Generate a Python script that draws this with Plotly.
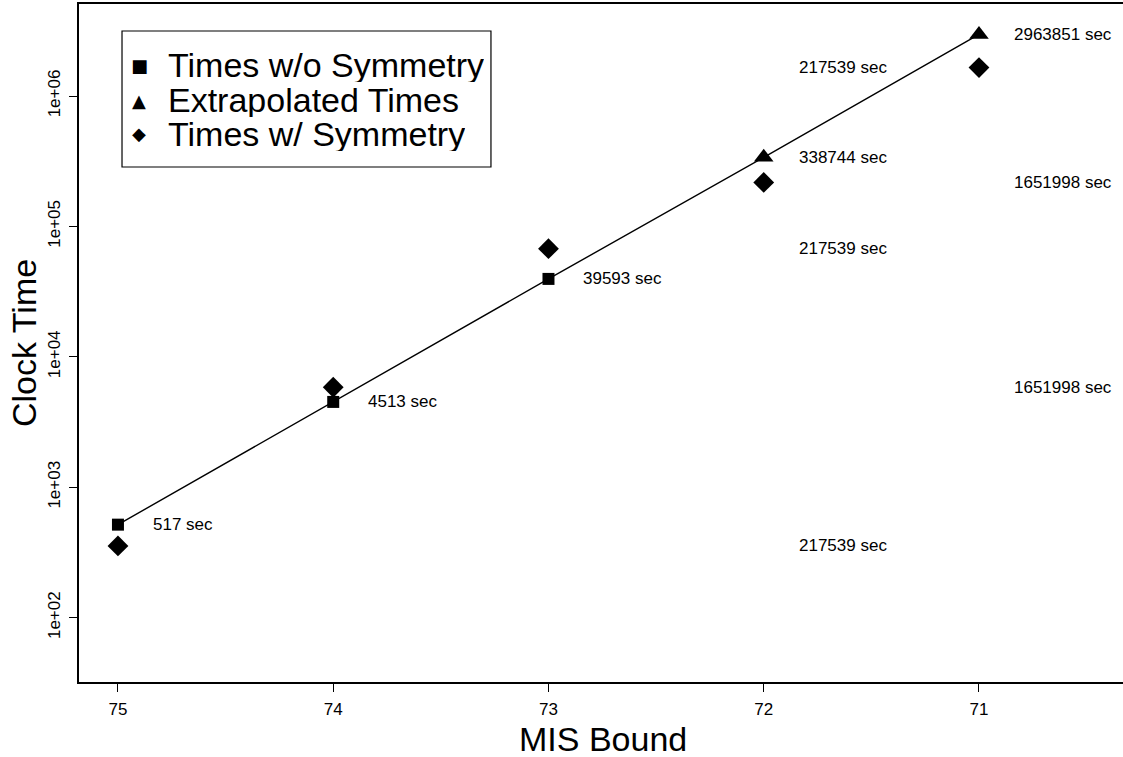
import math
import plotly.graph_objects as go

# ---- data ----
mis_bound = [75, 74, 73, 72, 71]
times_wo_sym_x = [75, 74, 73]
times_wo_sym = [517, 4513, 39593]
extrap_x = [72, 71]
extrap_times = [338744, 2963851]
times_sym = [355, 5850, 67500, 217539, 1651998]
wo_labels = ["517 sec", "4513 sec", "39593 sec", "338744 sec", "2963851 sec"]
sym_label_x = [72, 71]                       # recycled along the symmetry points
sym_label_text = ["217539 sec", "1651998 sec"]
y_tickvals = [1e2, 1e3, 1e4, 1e5, 1e6]
y_ticktext = ["1e+02", "1e+03", "1e+04", "1e+05", "1e+06"]
legend_names = ["Times w/o Symmetry", "Extrapolated Times", "Times w/ Symmetry"]
legend_symbols = ["\u25A0", "\u25B2", "\u25C6"]

FONT = "Liberation Sans, Arial, Helvetica, sans-serif"

fig = go.Figure()

fig.add_trace(go.Scatter(
    x=times_wo_sym_x + extrap_x, y=times_wo_sym + extrap_times,
    mode="lines", line=dict(color="black", width=1.4), showlegend=False))
fig.add_trace(go.Scatter(
    x=times_wo_sym_x, y=times_wo_sym, mode="markers", name=legend_names[0],
    marker=dict(symbol="square", size=12, color="black"), showlegend=False))
fig.add_trace(go.Scatter(
    x=extrap_x, y=extrap_times, mode="markers", name=legend_names[1],
    marker=dict(symbol="triangle-up", size=17, color="black"), showlegend=False))
fig.add_trace(go.Scatter(
    x=mis_bound, y=times_sym, mode="markers", name=legend_names[2],
    marker=dict(symbol="diamond", size=16, color="black"), showlegend=False))

annotations = []
for xv, yv, t in zip(mis_bound, times_wo_sym + extrap_times, wo_labels):
    annotations.append(dict(x=xv, y=math.log10(yv), xref="x", yref="y", text=t,
                            showarrow=False, xanchor="left", yanchor="middle",
                            xshift=33, font=dict(family=FONT, size=17, color="black")))
for i, yv in enumerate(times_sym):
    annotations.append(dict(x=sym_label_x[i % 2], y=math.log10(yv), xref="x", yref="y",
                            text=sym_label_text[i % 2], showarrow=False,
                            xanchor="left", yanchor="middle", xshift=33,
                            font=dict(family=FONT, size=17, color="black")))

leg_y = [0.9093, 0.8584, 0.8083]
for name, sym, yy in zip(legend_names, legend_symbols, leg_y):
    annotations.append(dict(x=0.0575, y=yy, xref="paper", yref="paper", text=sym,
                            showarrow=False, xanchor="center", yanchor="middle",
                            font=dict(family="DejaVu Sans", size=18, color="black")))
    annotations.append(dict(x=0.0833, y=yy, xref="paper", yref="paper", text=name,
                            showarrow=False, xanchor="left", yanchor="middle",
                            height=34, valign="middle",
                            font=dict(family=FONT, size=34, color="black")))

annotations.append(dict(x=0.502, y=0, xref="paper", yref="paper", text="MIS Bound",
                        showarrow=False, xanchor="center", yanchor="middle", yshift=-57,
                        height=34, valign="middle",
                        font=dict(family=FONT, size=34, color="black")))
annotations.append(dict(x=0, y=0.5, xref="paper", yref="paper", text="Clock Time",
                        showarrow=False, xanchor="center", yanchor="middle", xshift=-55,
                        textangle=-90, font=dict(family=FONT, size=34, color="black")))

fig.update_layout(
    width=1123, height=757,
    margin=dict(l=79, r=0, t=4, b=75),
    paper_bgcolor="white", plot_bgcolor="white",
    showlegend=False,
    annotations=annotations,
    shapes=[dict(type="rect", xref="paper", yref="paper",
                 x0=0.0412, x1=0.3946, y0=0.7596, y1=0.9602,
                 line=dict(color="black", width=1.2), fillcolor="white", layer="below")],
    font=dict(family=FONT, color="black"),
)

fig.update_xaxes(
    range=[75.181, 70.331], tickvals=mis_bound, ticktext=[str(v) for v in mis_bound],
    showgrid=False, zeroline=False, showline=True, linecolor="black", linewidth=1.6,
    mirror=True, ticks="outside", ticklen=8, tickwidth=1.2, tickcolor="black",
    tickfont=dict(family=FONT, size=17, color="black"), ticklabelstandoff=3)
fig.update_yaxes(
    type="log", range=[1.507, 6.7055], tickvals=y_tickvals, ticktext=y_ticktext,
    tickangle=-90, showgrid=False, zeroline=False, showline=True, linecolor="black",
    linewidth=1.6, mirror=False, ticks="outside", ticklen=8, tickwidth=1.2,
    tickcolor="black", tickfont=dict(family=FONT, size=17, color="black"),
    ticklabelstandoff=2)

fig.write_html("out.html")
